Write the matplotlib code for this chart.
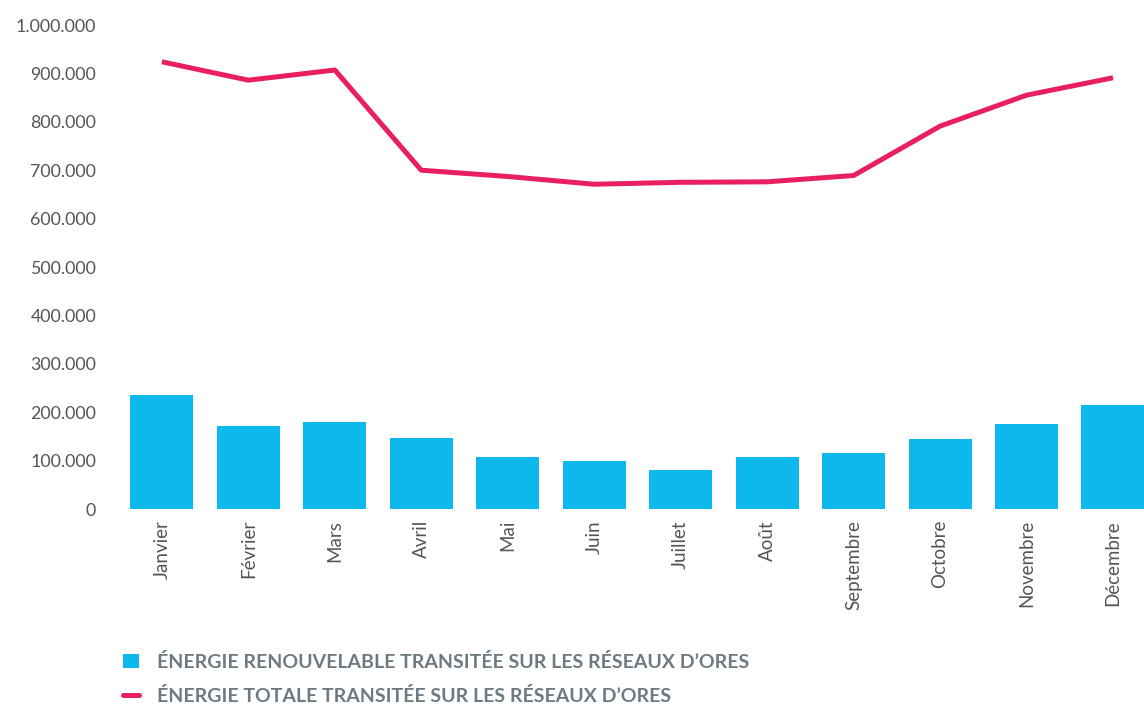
import matplotlib
matplotlib.use("Agg")
import matplotlib.pyplot as plt
from matplotlib.patches import Patch
from matplotlib.lines import Line2D
from matplotlib.ticker import FuncFormatter

plt.rcParams['font.family'] = ['Lato', 'DejaVu Sans']

mois = ["Janvier", "Février", "Mars", "Avril", "Mai", "Juin", "Juillet",
        "Août", "Septembre", "Octobre", "Novembre", "Décembre"]
renouvelable = [235000, 171000, 180000, 147000, 107000, 99000, 80000,
                107000, 116000, 145000, 176000, 215000]
totale = [924000, 886000, 907000, 700000, 687000, 671000, 675000,
          676000, 689000, 791000, 855000, 891000]

BLEU = "#0DB9EC"
ROSE = "#E8205F"
GRIS = "#555555"

fig = plt.figure(figsize=(11.44, 7.04), dpi=100)
ax = fig.add_axes([110 / 1144, 1 - 509 / 704, 1035 / 1144, 484 / 704])

x = range(len(mois))
ax.bar(x, renouvelable, width=0.73, color=BLEU, zorder=2)
ax.plot(x, totale, color=ROSE, linewidth=3.6, zorder=3, solid_capstyle='butt')

ax.set_xlim(-0.6, 11.37)
ax.set_ylim(0, 1000000)
ax.set_yticks(range(0, 1000001, 100000))
ax.yaxis.set_major_formatter(FuncFormatter(lambda v, p: f"{int(v):,}".replace(",", ".")))
ax.set_xticks(list(x))
ax.set_xticklabels(mois, rotation=90)
ax.tick_params(axis='both', length=0, colors=GRIS)
ax.tick_params(axis='y', pad=10, labelsize=12.8)
ax.tick_params(axis='x', pad=8, labelsize=13.5)
for s in ax.spines.values():
    s.set_visible(False)

handles = [Patch(facecolor=BLEU, edgecolor='none'),
           Line2D([0], [0], color=ROSE, linewidth=3.6, solid_capstyle='round')]
labels = ["ÉNERGIE RENOUVELABLE TRANSITÉE SUR LES RÉSEAUX D’ORES",
          "ÉNERGIE TOTALE TRANSITÉE SUR LES RÉSEAUX D’ORES"]
leg = fig.legend(handles, labels, loc='upper left',
                 bbox_to_anchor=(123 / 1144, 1 - 653 / 704),
                 frameon=False, borderpad=0, borderaxespad=0,
                 handlelength=0.8, handleheight=0.7,
                 handletextpad=0.95, labelspacing=0.8,
                 prop={'weight': 'bold', 'size': 14}, labelcolor="#6D7A82")

fig.savefig("out.png", dpi=100)
